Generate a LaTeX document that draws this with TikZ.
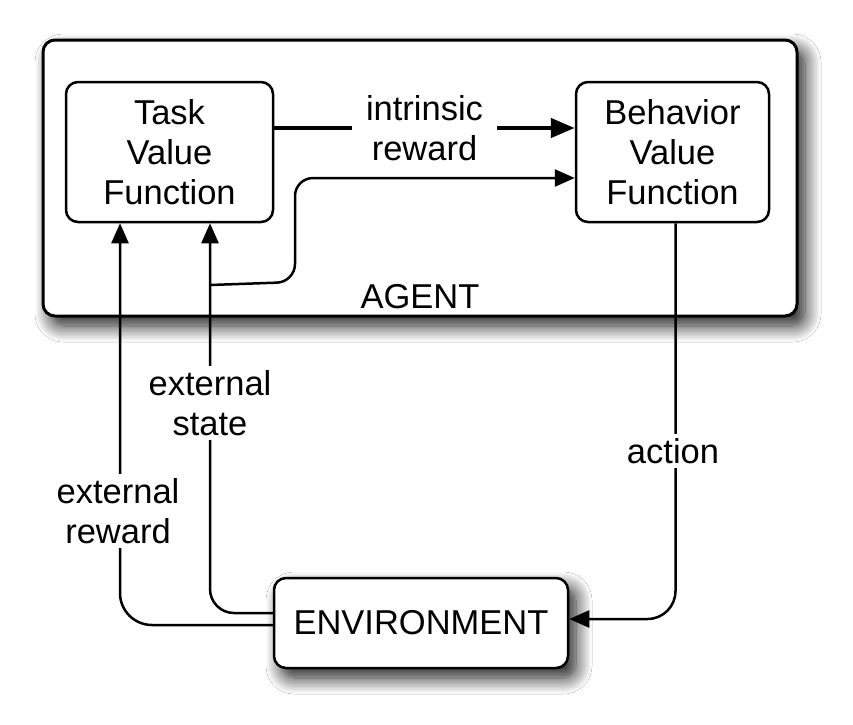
\documentclass[tikz,border=0pt]{standalone}
\usepackage{fontspec}
\setmainfont{Liberation Sans}
\usetikzlibrary{shadows.blur,arrows.meta}
\tikzset{
  box/.style={draw, line width=2.5pt, rounded corners=12pt, fill=white, inner sep=0pt, align=center, font=\fontsize{34.5}{40}\selectfont},
  shad/.style={blur shadow={shadow xshift=8pt, shadow yshift=-10pt, shadow blur radius=16pt, shadow blur steps=12, shadow opacity=90}},
  lbl/.style={fill=white, align=center, inner xsep=16pt, inner ysep=4pt, font=\fontsize{34.5}{40}\selectfont},
  arr/.style={line width=2.5pt, -{Triangle[length=20pt,width=17pt]}},
  thickarr/.style={line width=4.5pt, -{Triangle[length=24pt,width=19pt]}},
}
\begin{document}
\begin{tikzpicture}[x=1pt,y=-1pt]
\useasboundingbox[fill=white] (0,0) rectangle (853,724);
\node[box, shad, line width=3pt, minimum width=754pt, minimum height=276pt] (agent) at (420,178) {};
\node[box, minimum width=207pt, minimum height=140pt] (task) at (169.5,152) {Task\\Value\\Function};
\node[box, minimum width=193pt, minimum height=140pt] (beh) at (672.5,152) {Behavior\\Value\\Function};
\node[box, shad, minimum width=294pt, minimum height=90pt] (env) at (421,623) {ENVIRONMENT};
\node[font=\fontsize{34.5}{40}\selectfont] (agentlbl) at (420,297) {AGENT};
% intrinsic reward
\draw[thickarr] ([yshift=24pt]task.east) -- node[lbl, inner xsep=14pt] (intr) {intrinsic\\reward} ([yshift=24pt]beh.west);
% branch from external state
\coordinate (br) at (210,285);
\draw[arr, rounded corners=18pt] (br) -- (295,282) -- (295,178) -- ([yshift=-26pt]beh.west);
% external state
\draw[arr, rounded corners=24pt] ([yshift=10pt]env.west) -| ([xshift=40.5pt]task.south);
\node[lbl, inner xsep=2pt] (extstate) at (210,403) {external\\state};
% external reward
\draw[arr, rounded corners=32pt] ([yshift=-2pt]env.west) -| ([xshift=-49.5pt]task.south);
\node[lbl, inner xsep=2pt] (extrew) at (118,511) {external\\reward};
% action
\draw[arr, rounded corners=28pt] ([xshift=3pt]beh.south) |- ([yshift=4pt]env.east);
\node[lbl, inner xsep=2pt] (action) at (673,451) {action};
\end{tikzpicture}
\end{document}
